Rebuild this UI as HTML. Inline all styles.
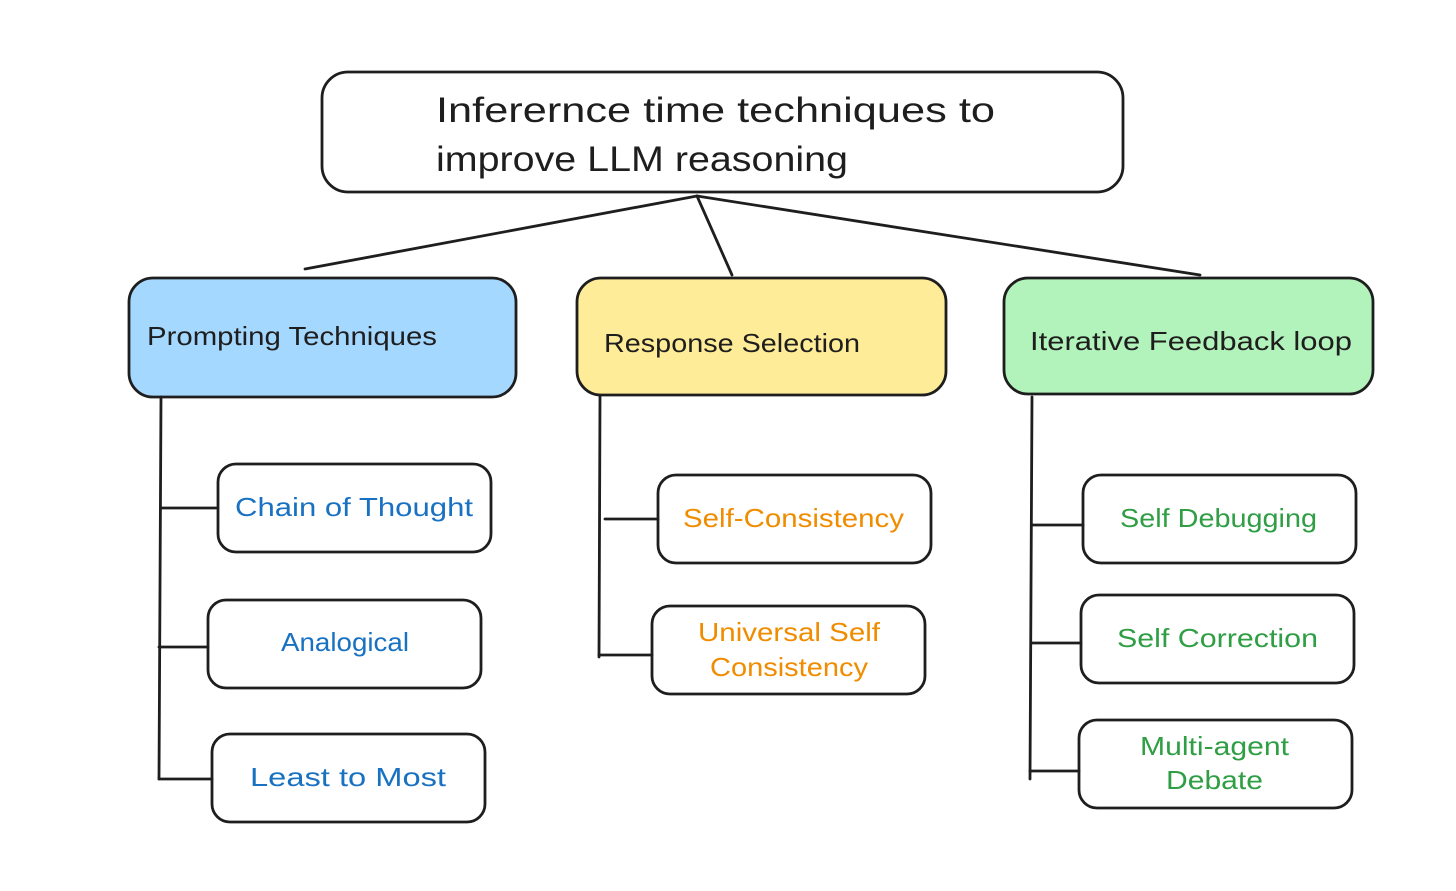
<!DOCTYPE html>
<html><head><meta charset="utf-8"><style>
html,body{margin:0;padding:0;background:#fff;}
svg{display:block;}
text{font-family:"Liberation Sans",sans-serif;}
</style></head><body>
<svg width="1456" height="891" viewBox="0 0 1456 891" xmlns="http://www.w3.org/2000/svg">
<g fill="none" stroke="#1e1e1e" stroke-width="2.8" stroke-linecap="round">
<rect x="322" y="72" width="801" height="120" rx="26"/>
<line x1="697" y1="196" x2="305" y2="269"/>
<line x1="697" y1="196" x2="732" y2="275"/>
<line x1="697" y1="196" x2="1200" y2="275"/>
<rect x="129" y="278" width="387" height="119" rx="24" fill="#a5d8ff"/>
<rect x="577" y="278" width="369" height="117" rx="24" fill="#ffec99"/>
<rect x="1004" y="278" width="369" height="116" rx="24" fill="#b2f2bb"/>
<line x1="161" y1="397" x2="159" y2="779"/>
<line x1="161" y1="508" x2="216" y2="508"/>
<line x1="159" y1="647" x2="208" y2="647"/>
<line x1="159" y1="779" x2="212" y2="779"/>
<rect x="218" y="464" width="273" height="88" rx="18"/>
<rect x="208" y="600" width="273" height="88" rx="18"/>
<rect x="212" y="734" width="273" height="88" rx="18"/>
<line x1="600" y1="397" x2="599" y2="657"/>
<line x1="605" y1="519" x2="658" y2="519"/>
<line x1="599" y1="655" x2="652" y2="655"/>
<rect x="658" y="475" width="273" height="88" rx="18"/>
<rect x="652" y="606" width="273" height="88" rx="18"/>
<line x1="1032" y1="397" x2="1030" y2="779"/>
<line x1="1032" y1="525" x2="1083" y2="525"/>
<line x1="1032" y1="643" x2="1081" y2="643"/>
<line x1="1030" y1="771" x2="1079" y2="771"/>
<rect x="1083" y="475" width="273" height="88" rx="18"/>
<rect x="1081" y="595" width="273" height="88" rx="18"/>
<rect x="1079" y="720" width="273" height="88" rx="18"/>
</g>
<g font-size="35" fill="#1e1e1e" lengthAdjust="spacingAndGlyphs">
<text x="436" y="122" textLength="559" lengthAdjust="spacingAndGlyphs">Inferernce time techniques to</text>
<text x="436" y="171" textLength="412" lengthAdjust="spacingAndGlyphs">improve LLM reasoning</text>
</g>
<g font-size="26" fill="#1e1e1e">
<text x="147" y="345" textLength="290" lengthAdjust="spacingAndGlyphs">Prompting Techniques</text>
<text x="604" y="352" textLength="256" lengthAdjust="spacingAndGlyphs">Response Selection</text>
<text x="1030" y="350" textLength="322" lengthAdjust="spacingAndGlyphs">Iterative Feedback loop</text>
</g>
<g font-size="26">
<text x="235" y="516" fill="#1971c2" textLength="238" lengthAdjust="spacingAndGlyphs">Chain of Thought</text>
<text x="281" y="651" fill="#1971c2" textLength="128" lengthAdjust="spacingAndGlyphs">Analogical</text>
<text x="250" y="786" fill="#1971c2" textLength="196" lengthAdjust="spacingAndGlyphs">Least to Most</text>
<text x="683" y="527" fill="#f08c00" textLength="221" lengthAdjust="spacingAndGlyphs">Self-Consistency</text>
<text x="698" y="641" fill="#f08c00" textLength="182" lengthAdjust="spacingAndGlyphs">Universal Self</text>
<text x="710" y="676" fill="#f08c00" textLength="158" lengthAdjust="spacingAndGlyphs">Consistency</text>
<text x="1120" y="527" fill="#2f9e44" textLength="197" lengthAdjust="spacingAndGlyphs">Self Debugging</text>
<text x="1117" y="647" fill="#2f9e44" textLength="201" lengthAdjust="spacingAndGlyphs">Self Correction</text>
<text x="1140" y="755" fill="#2f9e44" textLength="149" lengthAdjust="spacingAndGlyphs">Multi-agent</text>
<text x="1166" y="789" fill="#2f9e44" textLength="97" lengthAdjust="spacingAndGlyphs">Debate</text>
</g>
</svg>
</body></html>
